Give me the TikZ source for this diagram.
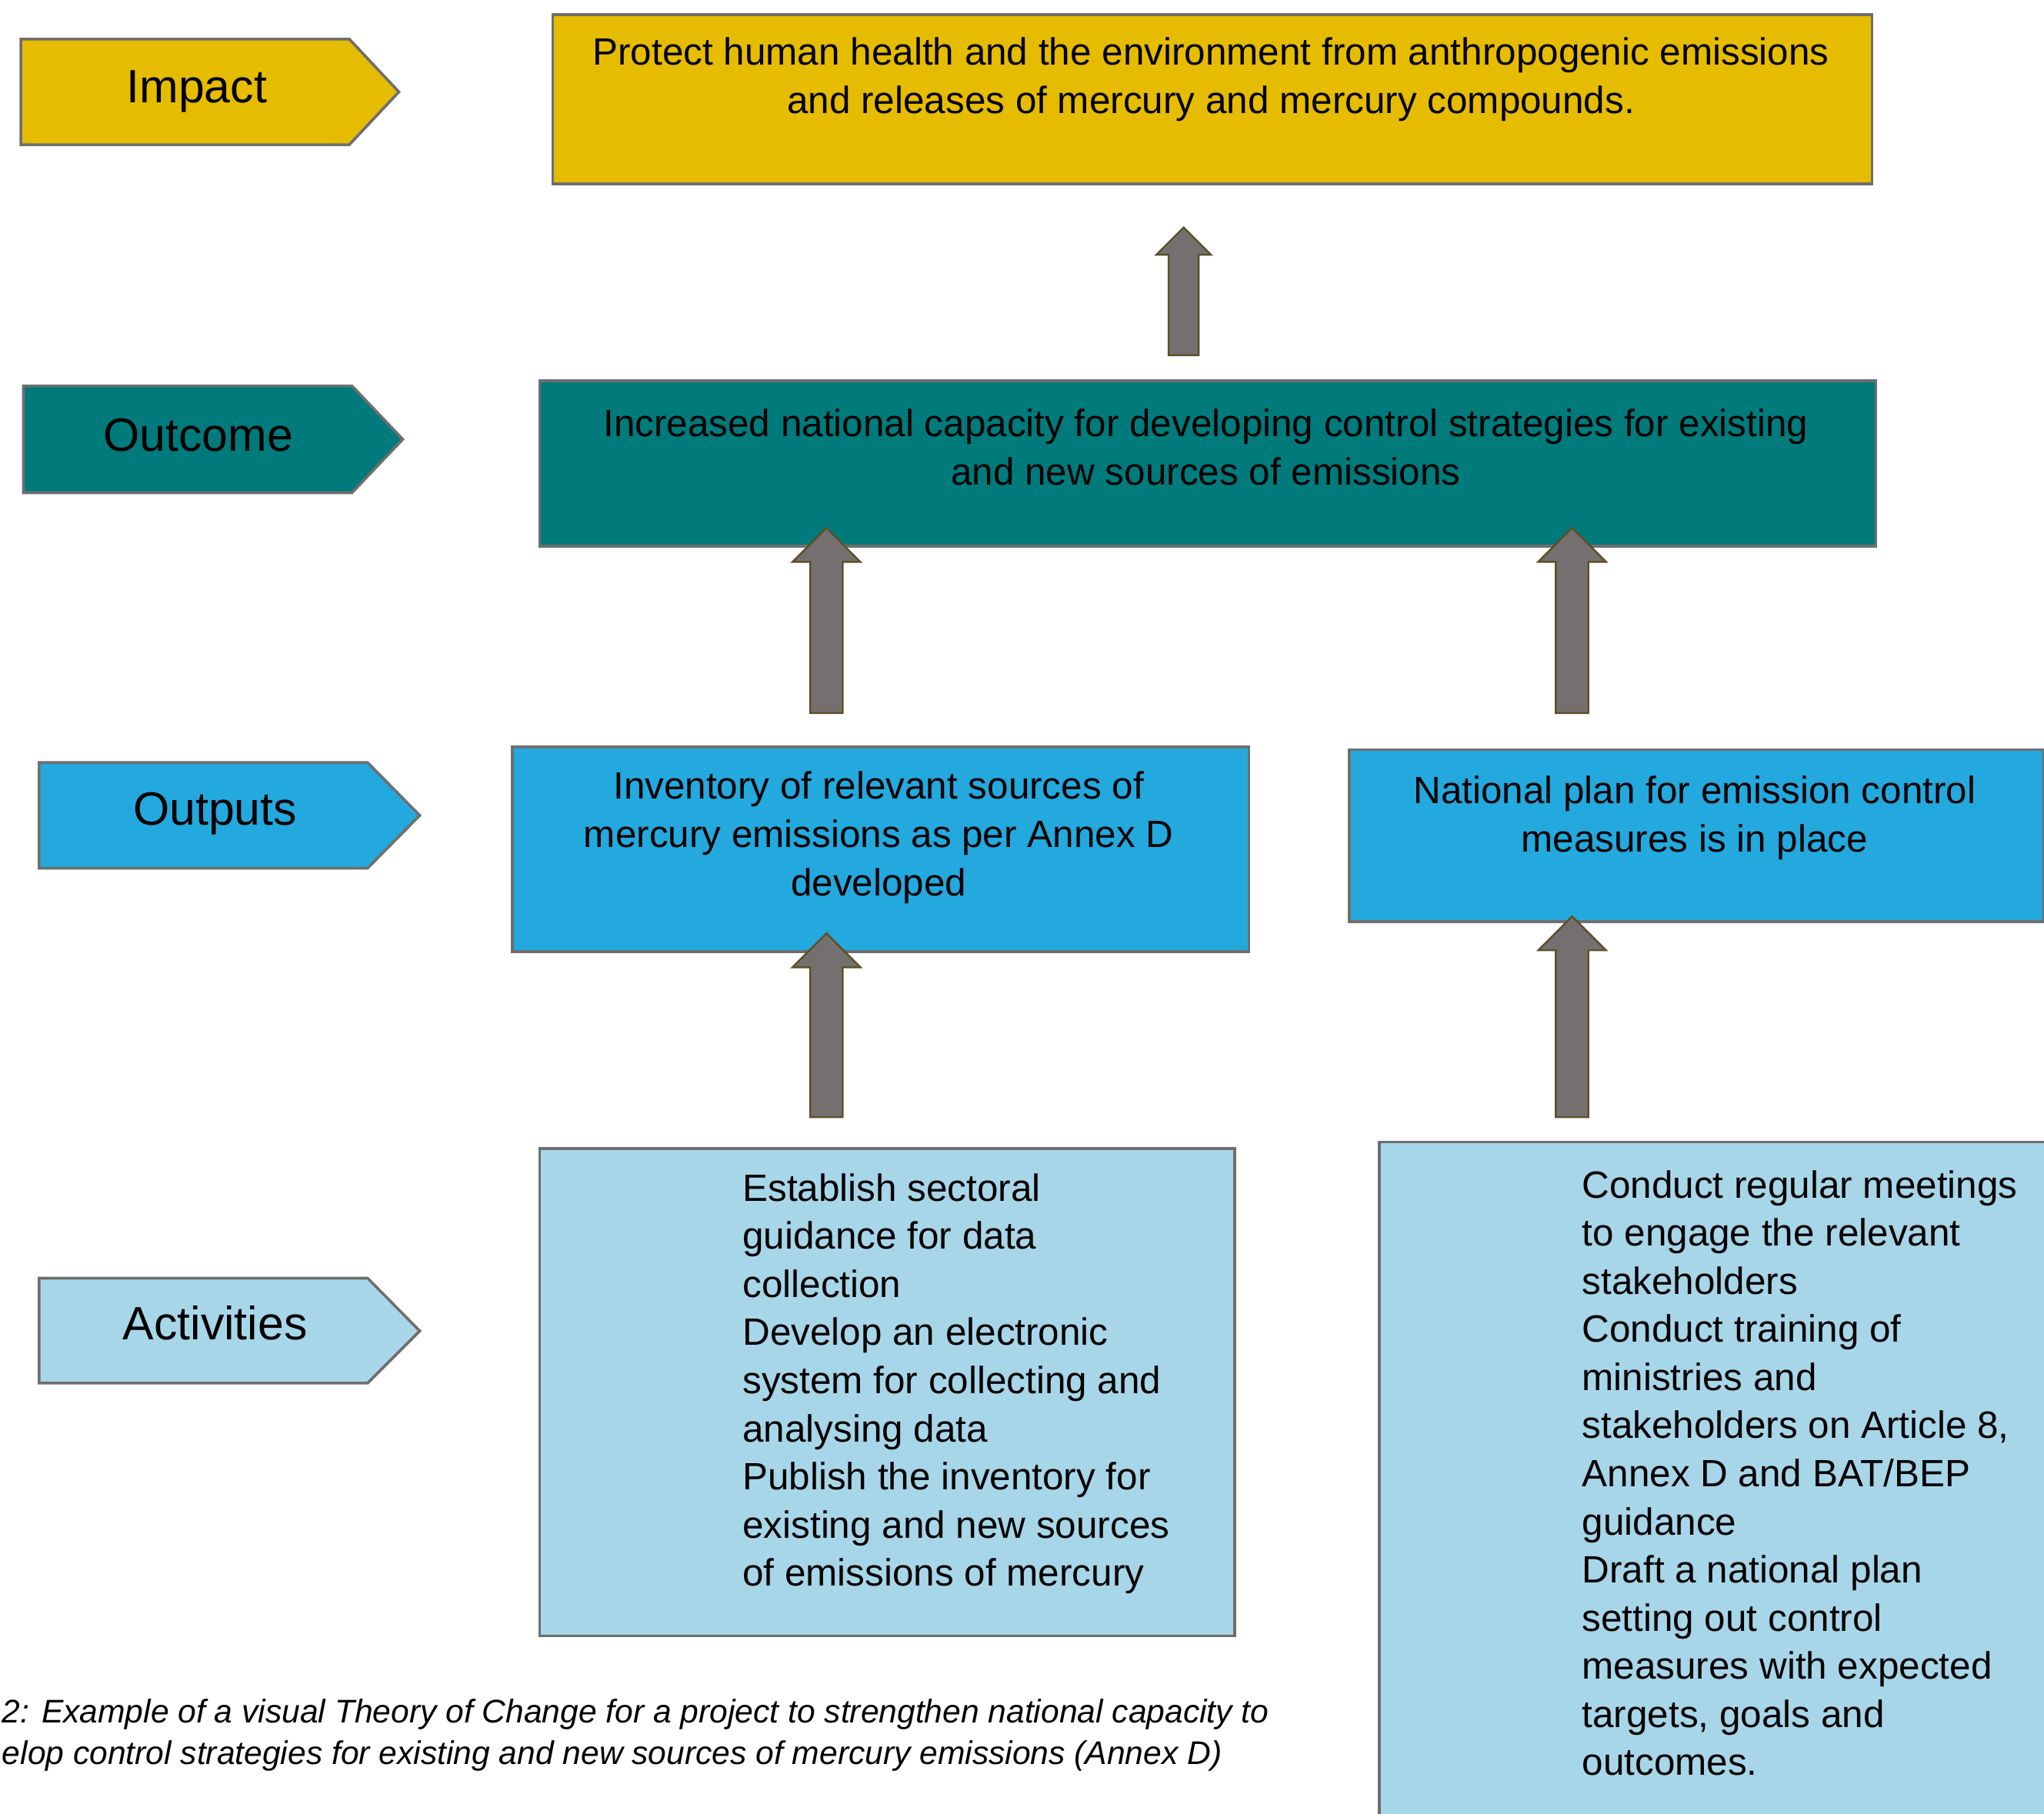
\documentclass[tikz,border=0pt]{standalone}
\usepackage{fontspec}
\setmainfont{Liberation Sans}
\usepackage{tikz}
\usetikzlibrary{calc}

\definecolor{impactc}{RGB}{230,188,0}
\definecolor{outcomec}{RGB}{0,122,123}
\definecolor{outputc}{RGB}{35,169,222}
\definecolor{activityc}{RGB}{168,214,233}
\definecolor{edgec}{RGB}{110,110,110}
\definecolor{arrowc}{RGB}{116,112,111}
\definecolor{arrowedge}{RGB}{92,80,40}

\tikzset{
    tagbox/.style={draw=edgec,line width=0.6pt},
    resbox/.style={draw=edgec,line width=0.6pt,inner sep=0pt,anchor=north west},
    taglbl/.style={font=\fontsize{10.2}{12}\selectfont,inner sep=0pt},
    boxtxt/.style={font=\fontsize{8.3}{10.5}\selectfont,inner sep=0pt},
    arrowbody/.style={fill=arrowc,draw=arrowedge,line width=0.4pt}
}

% block arrow: #1 bottom, #2 tip, #3 half shaft, #4 half head
\newcommand{\blockarrow}[4]{%
    \path[arrowbody] let \p1=(#1), \p2=(#2) in
        (\x1-#3,\y1)--(\x1-#3,\y2-#4)--(\x1-#4,\y2-#4)--(\x2,\y2)
        --(\x1+#4,\y2-#4)--(\x1+#3,\y2-#4)--(\x1+#3,\y1)--cycle;}

\begin{document}
\begin{tikzpicture}[x=0.1mm,y=-0.1mm]
        \useasboundingbox (0,0) rectangle (1568,1391);
        % level tags
        \draw[tagbox,fill=impactc](16,30)--(268,30)--(306,70.5)--(268,111)--(16,111)--cycle;
        \node[taglbl](tagimpact) at (151,70){Impact};
        \draw[tagbox,fill=outcomec](18,296)--(270,296)--(309,337)--(270,378)--(18,378)--cycle;
        \node[taglbl](tagoutcome) at (152,334){Outcome};
        \draw[tagbox,fill=outputc](30,585)--(282,585)--(322,625.5)--(282,666)--(30,666)--cycle;
        \node[taglbl](tagoutputs) at (165,624){Outputs};
        \draw[tagbox,fill=activityc](30,980.5)--(282,980.5)--(322,1021)--(282,1061)--(30,1061)--cycle;
        \node[taglbl](tagactivities) at (165,1015){Activities};
        % boxes
        \node[resbox,fill=impactc,minimum width=101.2mm,minimum height=13mm](impact) at (423,10){};
        \node[boxtxt,align=center](impacttxt) at (929,61){Protect human health and the environment from anthropogenic emissions\\and releases of mercury and mercury compounds.};
        \node[resbox,fill=outcomec,minimum width=102.5mm,minimum height=12.7mm](outcome) at (413,291){};
        \node[boxtxt,align=center](outcometxt) at (925,343){Increased national capacity for developing control strategies for existing\\and new sources of emissions};
        \node[resbox,fill=outputc,minimum width=56.5mm,minimum height=15.7mm](outa) at (392,572){};
        \node[boxtxt,align=center](outatxt) at (674,642.5){Inventory of relevant sources of\\mercury emissions as per Annex D\\developed};
        \node[resbox,fill=outputc,minimum width=53.3mm,minimum height=13.2mm](outb) at (1034,574){};
        \node[boxtxt,align=center](outbtxt) at (1300,627.5){National plan for emission control\\measures is in place};
        \node[resbox,fill=activityc,minimum width=53.3mm,minimum height=37.4mm](acta) at (413,880){};
        \node[boxtxt,align=left,anchor=west](actatxt) at (569,1061.5){Establish sectoral\\guidance for data\\collection\\Develop an electronic\\system for collecting and\\analysing data\\Publish the inventory for\\existing and new sources\\of emissions of mercury};
        \node[resbox,fill=activityc,minimum width=56mm,minimum height=56mm](actb) at (1057,875){};
        \node[boxtxt,align=left,anchor=west](actbtxt) at (1213,1130){Conduct regular meetings\\to engage the relevant\\stakeholders\\Conduct training of\\ministries and\\stakeholders on Article 8,\\Annex D and BAT/BEP\\guidance\\Draft a national plan\\setting out control\\measures with expected\\targets, goals and\\outcomes.};
        % arrow ends
        \coordinate(upb) at (908,272.5);
        \coordinate(upt) at (908,174.5);
        \coordinate(oab) at (634,547);
        \coordinate(oat) at (634,405);
        \coordinate(obb) at (1206,547);
        \coordinate(obt) at (1206,405);
        \coordinate(aab) at (634,857);
        \coordinate(aat) at (634,716);
        \coordinate(abb) at (1206,857);
        \coordinate(abt) at (1206,703);
        \blockarrow{upb}{upt}{1.15mm}{2.1mm}
        \blockarrow{oab}{oat}{1.25mm}{2.6mm}
        \blockarrow{obb}{obt}{1.25mm}{2.6mm}
        \blockarrow{aab}{aat}{1.25mm}{2.6mm}
        \blockarrow{abb}{abt}{1.25mm}{2.6mm}
        % caption
        \node[align=left,anchor=west,inner sep=0pt,font=\fontsize{7.15}{9.2}\selectfont\itshape](caption) at (1,1331){2: Example of a visual Theory of Change for a project to strengthen national capacity to\\elop control strategies for existing and new sources of mercury emissions (Annex D)};
    \end{tikzpicture}
\end{document}
